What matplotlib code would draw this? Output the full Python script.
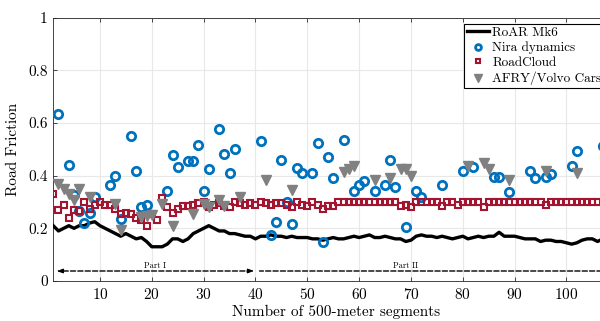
"""
Road friction comparison plot
"""

import matplotlib

matplotlib.use("Agg")
import matplotlib.pyplot as plt

plt.rcParams["font.family"] = "serif"
plt.rcParams["font.serif"] = ["cmr10", "DejaVu Serif"]
plt.rcParams["mathtext.fontset"] = "cm"
plt.rcParams["axes.formatter.use_mathtext"] = True
plt.rcParams["axes.unicode_minus"] = False

# RoAR Mk6 (segments 1..108)
roar = [
    0.21, 0.19, 0.20, 0.21, 0.20, 0.21, 0.21, 0.22, 0.225, 0.21,
    0.20, 0.19, 0.18, 0.17, 0.18, 0.17, 0.16, 0.165, 0.15, 0.13,
    0.13, 0.13, 0.14, 0.16, 0.16, 0.15, 0.16, 0.18, 0.19, 0.20,
    0.21, 0.20, 0.19, 0.19, 0.18, 0.18, 0.175, 0.17, 0.17, 0.16,
    0.17, 0.17, 0.175, 0.17, 0.17, 0.165, 0.17, 0.165, 0.165, 0.165,
    0.16, 0.16, 0.155, 0.16, 0.165, 0.16, 0.16, 0.165, 0.17, 0.165,
    0.17, 0.175, 0.165, 0.165, 0.17, 0.165, 0.16, 0.16, 0.15, 0.155,
    0.17, 0.175, 0.17, 0.17, 0.165, 0.17, 0.165, 0.16, 0.165, 0.17,
    0.16, 0.165, 0.17, 0.165, 0.17, 0.17, 0.185, 0.17, 0.17, 0.17,
    0.165, 0.16, 0.16, 0.16, 0.15, 0.155, 0.155, 0.15, 0.15, 0.145,
    0.14, 0.145, 0.155, 0.16, 0.16, 0.15, 0.16, 0.16,
]
segments = list(range(1, len(roar) + 1))

# RoadCloud (segments 1..108)
roadcloud = [
    0.33, 0.27, 0.29, 0.24, 0.27, 0.265, 0.30, 0.275, 0.29, 0.30,
    0.29, 0.29, 0.275, 0.255, 0.26, 0.255, 0.24, 0.23, 0.21, 0.255,
    0.23, 0.315, 0.28, 0.26, 0.275, 0.285, 0.285, 0.29, 0.295, 0.30,
    0.28, 0.29, 0.295, 0.285, 0.28, 0.30, 0.295, 0.29, 0.295, 0.29,
    0.30, 0.295, 0.29, 0.295, 0.295, 0.29, 0.28, 0.30, 0.29, 0.285,
    0.30, 0.29, 0.275, 0.285, 0.285, 0.30, 0.30, 0.30, 0.30, 0.30,
    0.30, 0.30, 0.30, 0.30, 0.30, 0.30, 0.30, 0.285, 0.29, 0.28,
    0.30, 0.30, 0.30, 0.30, 0.30, 0.285, 0.30, 0.30, 0.29, 0.30,
    0.30, 0.30, 0.30, 0.28, 0.30, 0.30, 0.30, 0.30, 0.30, 0.30,
    0.30, 0.30, 0.30, 0.30, 0.30, 0.29, 0.30, 0.30, 0.30, 0.30,
    0.30, 0.30, 0.30, 0.30, 0.30, 0.30, 0.30, 0.30,
]

# Nira dynamics
nira_seg = [
    2, 4, 5, 6, 7, 8, 9, 12, 13, 14, 16, 17, 18, 19, 23, 24, 25, 27, 28, 29,
    30, 31, 33, 34, 35, 36, 41, 43, 44, 45, 46, 47, 48, 49, 51, 52, 53, 54, 55, 57,
    59, 60, 61, 63, 65, 66, 67, 69, 71, 72, 76, 80, 82, 86, 87, 89, 93, 94, 96, 97,
    101, 102, 107,
]
nira_val = [
    0.635, 0.44, 0.325, 0.265, 0.22, 0.26, 0.32, 0.366, 0.40, 0.236, 0.55, 0.418, 0.282, 0.29, 0.343, 0.477, 0.433, 0.457, 0.455, 0.518,
    0.343, 0.424, 0.578, 0.483, 0.411, 0.50, 0.532, 0.173, 0.225, 0.46, 0.30, 0.216, 0.43, 0.41, 0.41, 0.525, 0.149, 0.469, 0.392, 0.535,
    0.343, 0.363, 0.381, 0.342, 0.364, 0.461, 0.358, 0.206, 0.342, 0.32, 0.363, 0.418, 0.433, 0.395, 0.394, 0.337, 0.418, 0.392, 0.396, 0.406,
    0.437, 0.492, 0.512,
]

# AFRY/Volvo Cars
afry_seg = [
    2, 3, 4, 5, 6, 8, 13, 14, 18, 19, 20, 22, 24, 28, 30, 31, 33, 34, 37, 42,
    47, 57, 58, 59, 63, 66, 68, 69, 70, 81, 84, 85, 89, 96, 102,
]
afry_val = [
    0.37, 0.351, 0.332, 0.307, 0.351, 0.319, 0.294, 0.195, 0.242, 0.245, 0.252, 0.294, 0.208, 0.253, 0.294, 0.28, 0.307, 0.284, 0.318, 0.385,
    0.344, 0.415, 0.427, 0.436, 0.385, 0.392, 0.425, 0.425, 0.398, 0.437, 0.447, 0.424, 0.385, 0.418, 0.41,
]

fig = plt.figure(figsize=(6.0, 3.21), dpi=100)
ax = fig.add_axes([0.0888, 0.1246, 0.9417, 0.8206])

ax.plot(segments, roar, color="black", linewidth=2.4, label="RoAR Mk6", zorder=3)
ax.plot(nira_seg, nira_val, linestyle="none", marker="o", markersize=6,
        markerfacecolor="none", markeredgecolor="#0072BD", markeredgewidth=2.0,
        label="Nira dynamics", zorder=4)
ax.plot(segments, roadcloud, linestyle="none", marker="s", markersize=4.6,
        markerfacecolor="none", markeredgecolor="#A2142F", markeredgewidth=1.5,
        label="RoadCloud", zorder=5)
ax.plot(afry_seg, afry_val, linestyle="none", marker="v", markersize=7.5,
        markerfacecolor="#808080", markeredgecolor="#808080",
        label="AFRY/Volvo Cars", zorder=6)

# Part I / Part II
ax.annotate("", xy=(1.6, 0.038), xytext=(39.8, 0.038),
            arrowprops=dict(arrowstyle="<|-|>,head_length=0.35,head_width=0.12",
                            linestyle="--", color="black", lw=1.0,
                            shrinkA=0, shrinkB=0))
ax.annotate("", xy=(40.8, 0.038), xytext=(130, 0.038),
            arrowprops=dict(arrowstyle="<|-,head_length=0.35,head_width=0.12",
                            linestyle="--", color="black", lw=1.0,
                            shrinkA=0, shrinkB=0),
            annotation_clip=False)
ax.text(20.6, 0.058, "Part I", fontsize=6, ha="center", va="center")
ax.text(69, 0.058, "Part II", fontsize=6, ha="center", va="center")

ax.set_xlim(1, 110)
ax.set_ylim(0, 1)
ax.set_xticks(range(10, 101, 10))
ax.set_yticks([0, 0.2, 0.4, 0.6, 0.8, 1])
ax.set_yticklabels(["0", "0.2", "0.4", "0.6", "0.8", "1"])
ax.tick_params(direction="in", top=True, right=True, labelsize=11,
               length=3, width=0.6, color="#262626", pad=4)
ax.grid(True, color="#e8e8e8", linewidth=0.8)
ax.set_axisbelow(True)
for spine in ax.spines.values():
    spine.set_color("#262626")
    spine.set_linewidth(0.6)

ax.set_xlabel("Number of 500-meter segments", fontsize=11, labelpad=2)
ax.set_ylabel("Road Friction", fontsize=11, labelpad=6)

leg = ax.legend(loc="upper left", bbox_to_anchor=(464 / 600, 1 - 24 / 321),
                bbox_transform=fig.transFigure, fontsize=9.5, frameon=True,
                fancybox=False, framealpha=1, edgecolor="black",
                borderpad=0.2, labelspacing=0.2, handlelength=1.7,
                handletextpad=0.25, markerscale=0.7, borderaxespad=0)
leg.get_frame().set_linewidth(0.8)

plt.savefig("out.png", dpi=100)
plt.close()
